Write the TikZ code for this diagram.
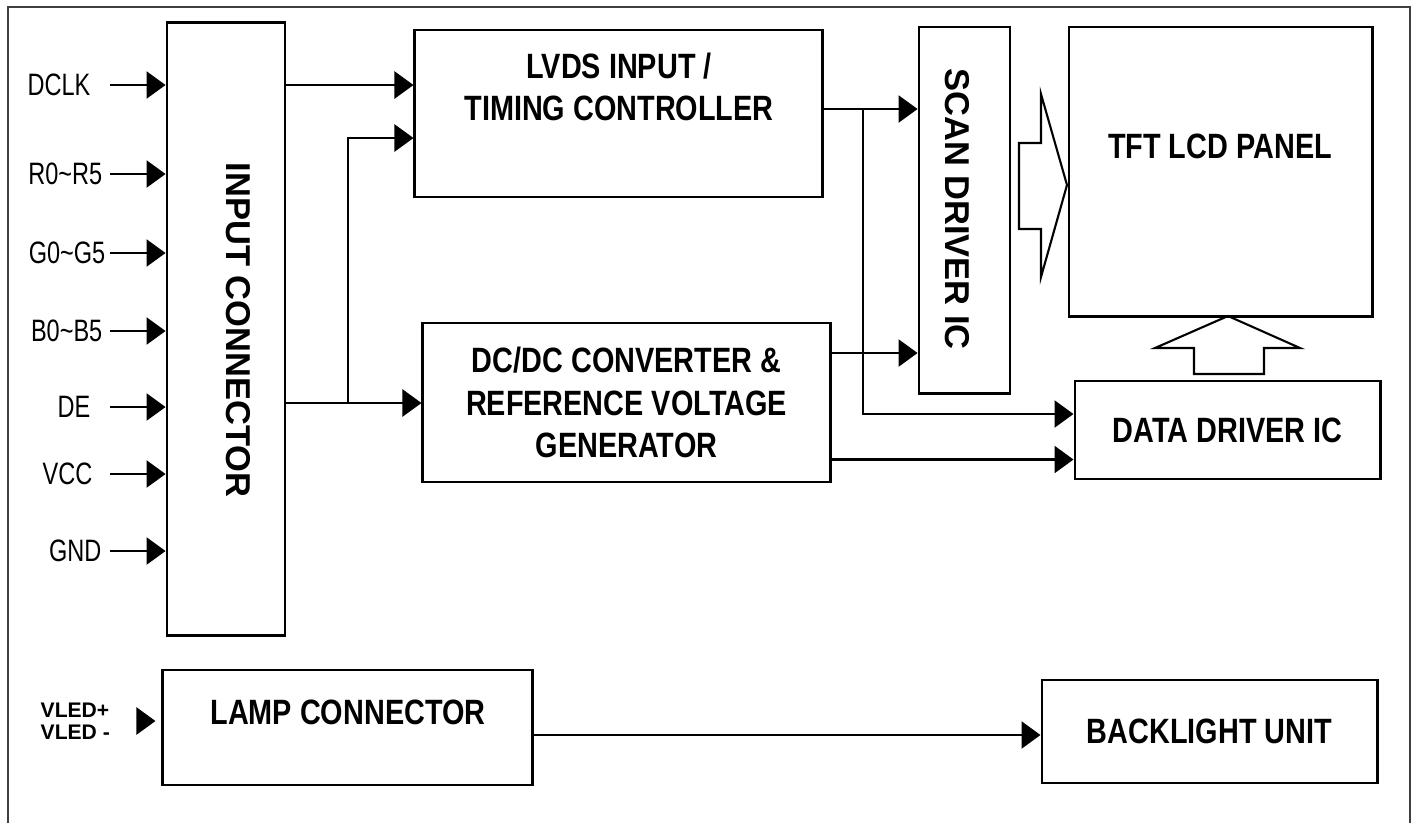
\documentclass[tikz,border=0pt]{standalone}
\usepackage{fontspec}
\setmainfont{Liberation Sans}
\newfontfamily\blkfont[FakeStretch=0.82]{Liberation Sans}
\newfontfamily\sigfont[FakeStretch=0.76]{Liberation Sans}
\usetikzlibrary{arrows.meta, positioning, calc}

\begin{document}
\begin{tikzpicture}[
    x=0.01cm, y=-0.01cm,
    >={Triangle[length=5.4pt, width=7.7pt]},
    blk/.style={draw, rectangle, line width=0.8pt, inner sep=0pt,
                font=\blkfont\bfseries\fontsize{10}{12}\selectfont, align=center},
    blktext/.style={inner sep=0pt, align=center,
                    font=\blkfont\bfseries\fontsize{10}{12}\selectfont},
    vtext/.style={inner sep=0pt, rotate=-90, font=\bfseries\fontsize{9.8}{12}\selectfont},
    sig/.style={inner sep=0pt, anchor=east, font=\sigfont\fontsize{8.8}{10}\selectfont},
    arr/.style={->, line width=0.6pt},
    hollow/.style={draw, line width=0.6pt, line join=miter}
  ]
  \useasboundingbox (0,0) rectangle (1415,823);

  % outer frame (open at the bottom)
  \draw[line width=0.6pt, black!75] (8,823) -- (8,7) -- (1410,7) -- (1410,823);

  % blocks
  \node[blk, minimum width=1.18cm, minimum height=6.12cm] (inconn) at (226,329) {};
  \node[vtext] (inconntxt) at (238,330) {INPUT CONNECTOR};

  \node[blk, minimum width=4.07cm, minimum height=1.67cm] (lvds) at (618.5,113.5) {};
  \node[blktext] (lvdstxt) at (619,87) {LVDS INPUT /\\TIMING CONTROLLER};

  \node[blk, minimum width=4.07cm, minimum height=1.59cm] (dcdc) at (626.5,402.5)
    {DC/DC CONVERTER \&\\REFERENCE VOLTAGE\\GENERATOR};

  \node[blk, minimum width=0.91cm, minimum height=3.66cm] (scan) at (964.5,210) {};
  \node[vtext] (scantxt) at (957,209) {SCAN DRIVER IC};

  \node[blk, minimum width=3.03cm, minimum height=2.89cm] (panel) at (1220.5,171.5) {};
  \node[blktext] (paneltxt) at (1220,146) {TFT LCD PANEL};

  \node[blk, minimum width=3.05cm, minimum height=0.98cm] (data) at (1227.5,430) {DATA DRIVER IC};

  \node[blk, minimum width=3.69cm, minimum height=1.15cm] (lamp) at (347.5,727.5) {};
  \node[blktext] (lamptxt) at (348,712) {LAMP CONNECTOR};

  \node[blk, minimum width=3.35cm, minimum height=1.03cm] (bl) at (1209.5,731.5) {BACKLIGHT UNIT};

  % input signals
  \coordinate (instart) at (110,0);
  \foreach \name/\txt/\yy/\xx in {dclk/DCLK/85/91, r/R0\textasciitilde R5/174/103,
      g/G0\textasciitilde G5/253/106, b/B0\textasciitilde B5/331/103,
      de/DE/407/91, vcc/VCC/474/93, gnd/GND/551/102}
    \node[sig] (\name) at (\xx,\yy) {\txt};
  \foreach \name in {dclk, r, g, b, de, vcc, gnd}
    \draw[arr] (\name -| instart) -- (\name -| inconn.west);

  \node[inner sep=0pt, anchor=west, align=left,
        font=\bfseries\fontsize{6}{6.3}\selectfont] (vled) at (40,721) {VLED+\\VLED -};
  \draw[arr] ($(lamp.west |- vled)+(-24,0)$) -- ($(lamp.west |- vled)+(-6,0)$);

  % connector -> controller / converter
  \coordinate (tap) at (348,403);
  \draw[arr] (inconn.east |- dclk) -- (lvds.west |- dclk);
  \draw[arr] (inconn.east |- tap) -- (dcdc.west |- tap);
  \draw[arr] (tap) |- ($(lvds.west)+(0,24.5)$);

  % controller -> drivers
  \coordinate (bus) at (863,0);
  \draw[arr] ($(lvds.east)+(0,-4.5)$) coordinate (lv) -- (lv -| scan.west);
  \draw[arr] (lv -| bus) |- ($(data.west)+(0,-16)$);

  % converter -> drivers
  \draw[arr] ($(dcdc.east)+(0,-49.5)$) coordinate (dc1) -- (dc1 -| scan.west);
  \draw[arr] ($(dcdc.east)+(0,57)$) coordinate (dc2) -- (dc2 -| data.west);

  % lamp -> backlight
  \draw[arr] ($(lamp.east)+(0,7.5)$) coordinate (lp) -- (lp -| bl.west);

  % hollow arrows into the panel
  \draw[hollow] (1019,143) -- (1041,143) -- (1041,94) -- (1067,185) -- (1041,277)
    -- (1041,229) -- (1019,229) -- cycle;
  \draw[hollow] (1194,374) -- (1194,348) -- (1155,348) -- (1228,316) -- (1300,348)
    -- (1264,348) -- (1264,374) -- cycle;
\end{tikzpicture}
\end{document}
